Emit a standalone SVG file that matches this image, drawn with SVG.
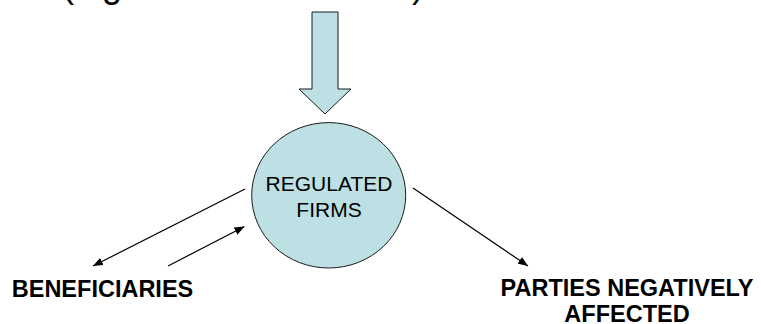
<svg xmlns="http://www.w3.org/2000/svg" width="761" height="324" viewBox="0 0 761 324">
  <style>
    .shape { fill: #BCE0E4; stroke: #1a1a1a; stroke-width: 1; }
    .conn { stroke: #000; stroke-width: 1.2; fill: none; marker-end: url(#head); }
    .label { font-family: "Liberation Sans", Arial, sans-serif; fill: #000; text-anchor: middle; }
    .bold { font-weight: bold; font-size: 23.5px; }
    .title { font-family: "Liberation Sans", Arial, sans-serif; font-size: 36px; fill: #000; }
  </style>
  <defs>
    <marker id="head" viewBox="0 0 10 8" refX="10" refY="4" markerWidth="10" markerHeight="8" markerUnits="userSpaceOnUse" orient="auto">
      <path d="M0,0 L10,4 L0,8 Z" fill="#000"/>
    </marker>
  </defs>

  <!-- heading line running off the top edge -->
  <g id="heading">
    <text class="title" x="62" y="-3.5">(</text>
    <text class="title" x="102" y="-3.5">g</text>
    <text class="title" x="412" y="-3.5">)</text>
  </g>

  <!-- downward block arrow into the firms -->
  <g id="regulation-arrow">
    <path class="shape" d="M312,12 L338,12 L338,89 L351,89 L325,114 L299,89 L312,89 Z"/>
  </g>

  <g id="regulated-firms">
    <ellipse class="shape" cx="328.7" cy="195.3" rx="77" ry="72.7"/>
    <text class="label" x="329" y="191" font-size="21">REGULATED</text>
    <text class="label" x="329" y="217" font-size="21">FIRMS</text>
  </g>

  <g id="beneficiaries">
    <text class="label bold" x="102.5" y="297">BENEFICIARIES</text>
  </g>

  <g id="parties-negatively-affected">
    <text class="label bold" x="627" y="296">PARTIES NEGATIVELY</text>
    <text class="label bold" x="627" y="322">AFFECTED</text>
  </g>

  <g id="connectors">
    <line class="conn" x1="245" y1="189" x2="93" y2="266"/>
    <line class="conn" x1="168" y1="266" x2="244.5" y2="226.5"/>
    <line class="conn" x1="413" y1="188" x2="528" y2="266"/>
  </g>
</svg>
